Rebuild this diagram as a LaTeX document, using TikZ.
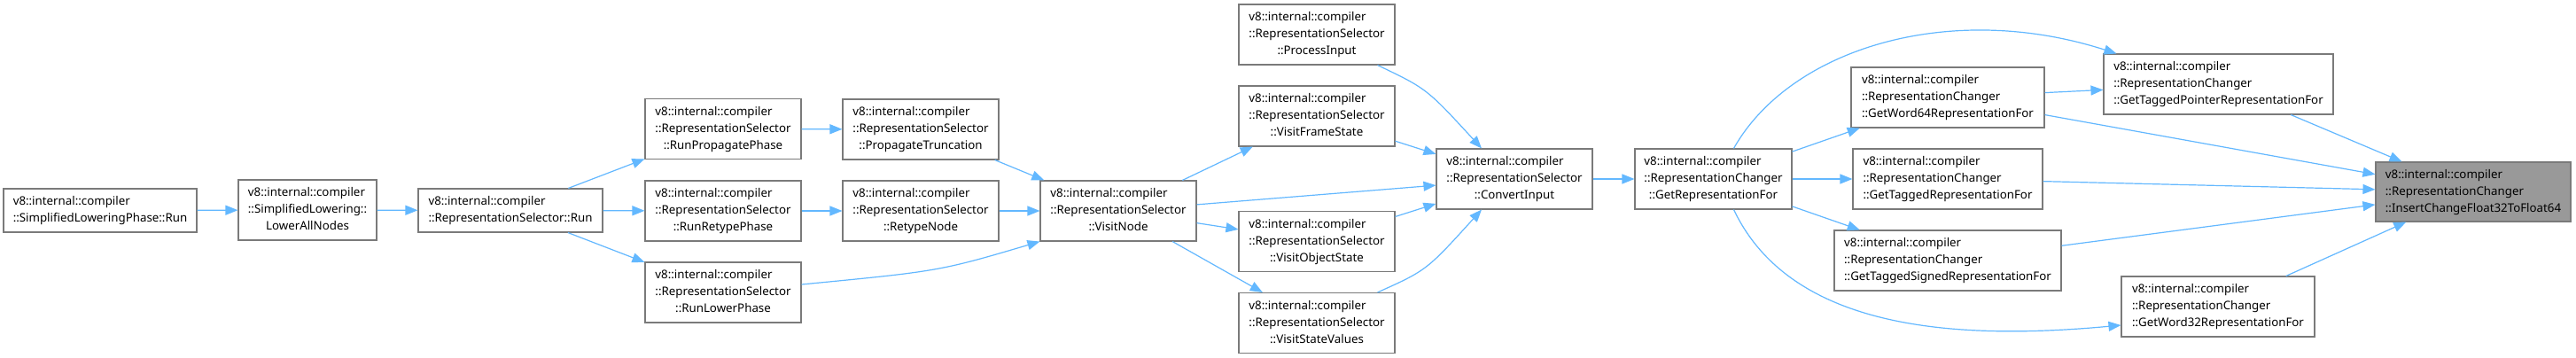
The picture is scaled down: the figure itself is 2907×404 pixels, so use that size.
\documentclass[tikz,border=0pt]{standalone}
\usepackage{fontspec}
\setmainfont{Noto Sans}
\usetikzlibrary{arrows.meta,calc}
\definecolor{edgeblue}{HTML}{63B8FF}
\definecolor{boxgray}{HTML}{7A7A7A}
\definecolor{hlgray}{HTML}{999999}
\newcommand{\labthree}[3]{\begin{tabular}{@{}l@{}}#1\\#2\\\multicolumn{1}{@{}c@{}}{#3}\end{tabular}}
\newcommand{\labtwo}[2]{\begin{tabular}{@{}l@{}}#1\\#2\end{tabular}}
\begin{document}
\begin{tikzpicture}[x=1pt,y=-1pt,
  font=\fontsize{13.3}{19}\selectfont,
  box/.style={draw=boxgray, line width=1.1pt, fill=white, inner sep=0pt, minimum height=68pt, text=black},
  hlbox/.style={box, fill=hlgray},
  edge/.style={draw=edgeblue, line width=1.2pt, -{Triangle[length=14pt,width=11pt]}}]
\fill[white] (0,0) rectangle (2907,404);
\useasboundingbox (0,0) rectangle (2907,404);
% nodes
\node[box, minimum width=218pt, minimum height=49pt] (slp) at (113,237.5) {\labtwo{v8::internal::compiler}{::SimplifiedLoweringPhase::Run}};
\node[box, minimum width=156pt] (lan) at (347,237) {\labthree{v8::internal::compiler}{::SimplifiedLowering::}{LowerAllNodes}};
\node[box, minimum width=208pt, minimum height=49pt] (rsrun) at (576,237.5) {\labtwo{v8::internal::compiler}{::RepresentationSelector::Run}};
\node[box, minimum width=176pt] (rpp) at (816,145.5) {\labthree{v8::internal::compiler}{::RepresentationSelector}{::RunPropagatePhase}};
\node[box, minimum width=176pt] (rrp) at (816,238) {\labthree{v8::internal::compiler}{::RepresentationSelector}{::RunRetypePhase}};
\node[box, minimum width=176pt] (rlp) at (816,330) {\labthree{v8::internal::compiler}{::RepresentationSelector}{::RunLowerPhase}};
\node[box, minimum width=176pt] (pt) at (1039,146) {\labthree{v8::internal::compiler}{::RepresentationSelector}{::PropagateTruncation}};
\node[box, minimum width=176pt] (rn) at (1039,238) {\labthree{v8::internal::compiler}{::RepresentationSelector}{::RetypeNode}};
\node[box, minimum width=176pt] (vn) at (1262,238) {\labthree{v8::internal::compiler}{::RepresentationSelector}{::VisitNode}};
\node[box, minimum width=176pt] (pi) at (1486,39) {\labthree{v8::internal::compiler}{::RepresentationSelector}{::ProcessInput}};
\node[box, minimum width=176pt] (vfs) at (1486,131) {\labthree{v8::internal::compiler}{::RepresentationSelector}{::VisitFrameState}};
\node[box, minimum width=176pt] (vos) at (1486,272.5) {\labthree{v8::internal::compiler}{::RepresentationSelector}{::VisitObjectState}};
\node[box, minimum width=176pt] (vsv) at (1486,364.5) {\labthree{v8::internal::compiler}{::RepresentationSelector}{::VisitStateValues}};
\node[box, minimum width=176pt] (ci) at (1709,202) {\labthree{v8::internal::compiler}{::RepresentationSelector}{::ConvertInput}};
\node[box, minimum width=177pt] (grf) at (1933.5,202) {\labthree{v8::internal::compiler}{::RepresentationChanger}{::GetRepresentationFor}};
\node[box, minimum width=218pt] (gw64) at (2198,110) {\labthree{v8::internal::compiler}{::RepresentationChanger}{::GetWord64RepresentationFor}};
\node[box, minimum width=214pt] (gt) at (2198,202) {\labthree{v8::internal::compiler}{::RepresentationChanger}{::GetTaggedRepresentationFor}};
\node[box, minimum width=256pt] (gts) at (2198,294) {\labthree{v8::internal::compiler}{::RepresentationChanger}{::GetTaggedSignedRepresentationFor}};
\node[box, minimum width=259pt] (gtp) at (2503.5,95) {\labthree{v8::internal::compiler}{::RepresentationChanger}{::GetTaggedPointerRepresentationFor}};
\node[box, minimum width=218pt] (gw32) at (2503,346) {\labthree{v8::internal::compiler}{::RepresentationChanger}{::GetWord32RepresentationFor}};
\node[hlbox, minimum width=220pt, minimum height=67pt] (icf) at (2791,216.5) {\labthree{v8::internal::compiler}{::RepresentationChanger}{::InsertChangeFloat32ToFloat64}};
% edges
\draw[edge] (slp) -- (lan);
\draw[edge] (lan) -- (rsrun);
\draw[edge] (rsrun) -- (rpp);
\draw[edge] (rsrun) -- (rrp);
\draw[edge] (rsrun) -- (rlp);
\draw[edge] (rpp) -- (pt);
\draw[edge] (rrp) -- (rn);
\draw[edge] ($(rlp.east)+(0,-9)$) .. controls (1060,306) .. (vn.south west);
\draw[edge] (pt) -- (vn);
\draw[edge] (rn) -- (vn);
\draw[edge] (vn) -- (vfs);
\draw[edge] (vn) -- (ci);
\draw[edge] (vn) -- (vos);
\draw[edge] (vn) -- (vsv);
\draw[edge] ($(pi.south east)+(-20,0)$) .. controls (1610,100) .. ($(ci.north)+(-37,0)$);
\draw[edge] (vfs) -- (ci);
\draw[edge] (vos) -- (ci);
\draw[edge] ($(vsv.north east)+(-20,0)$) .. controls (1610,305) .. ($(ci.south)+(-37,0)$);
\draw[edge] (ci) -- (grf);
\draw[edge] (grf) -- (gw64);
\draw[edge] (grf) -- (gt);
\draw[edge] (grf) -- (gts);
\draw[edge] ($(grf.north)+(23,0)$) .. controls (2020,55) and (2200,0) .. ($(gtp.north west)+(15,0)$);
\draw[edge] ($(grf.south)+(23,0)$) .. controls (2020,370) and (2200,385) .. ($(gw32.west)+(0,21)$);
\draw[edge] (gw64) -- (gtp);
\draw[edge] (gw64) -- (icf);
\draw[edge] (gt) -- (icf);
\draw[edge] (gts) -- (icf);
\draw[edge] (gtp) -- (icf);
\draw[edge] (gw32) -- (icf);
\end{tikzpicture}
\end{document}
